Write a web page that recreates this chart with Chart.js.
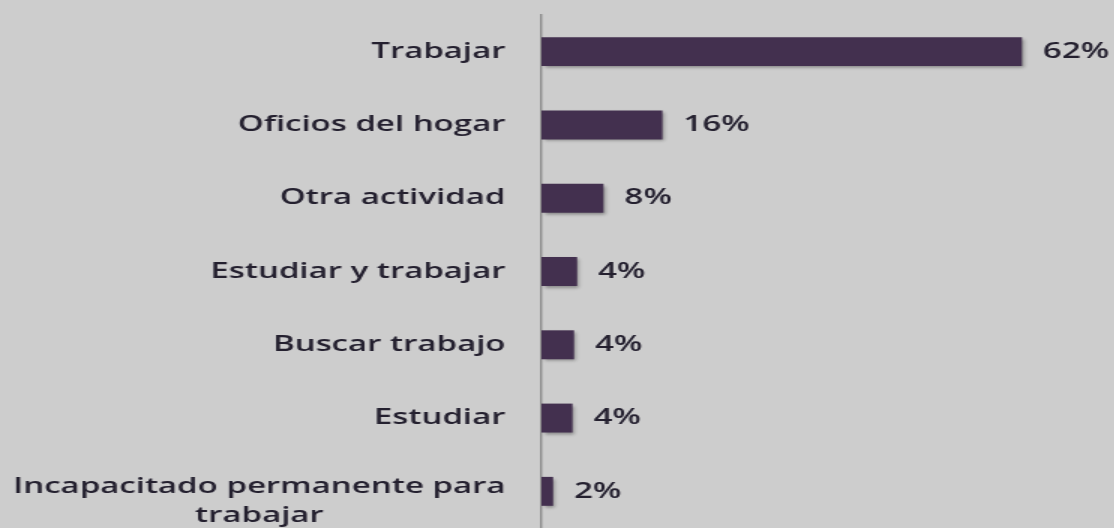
<!DOCTYPE html>
<html>
<head>
<meta charset="utf-8">
<script src="https://cdn.jsdelivr.net/npm/chart.js@4.4.1/dist/chart.umd.min.js"></script>
<style>
  html, body { margin: 0; padding: 0; background: #cdcdcd; overflow: hidden; }
  /* the source picture is stretched sideways, so the chart is drawn narrow and widened */
  #wrap { position: absolute; left: 0; top: 0; width: 743px; height: 528px;
          transform: scaleX(1.5); transform-origin: 0 0; filter: blur(0.4px); }
</style>
</head>
<body>
<div id="wrap"><canvas id="chart"></canvas></div>
<script>
// Data
const categories = [
    'Trabajar',
    'Oficios del hogar',
    'Otra actividad',
    'Estudiar y trabajar',
    'Buscar trabajo',
    'Estudiar',
    ['Incapacitado permanente para', 'trabajar']
];
const shares = [62, 15.6, 8.0, 4.6, 4.2, 4.0, 1.5];
const shareLabels = ['62%', '16%', '8%', '4%', '4%', '4%', '2%'];

const textColor = '#24202f';
const labelFont = '600 22px "Open Sans", sans-serif';

// bar shadow like the original's office style
const barShadow = {
    id: 'barShadow',
    beforeDatasetsDraw(chart) {
        const ctx = chart.ctx;
        ctx.save();
        ctx.shadowColor = 'rgba(0,0,0,0.35)';
        ctx.shadowOffsetX = 1.5;
        ctx.shadowOffsetY = 2;
        ctx.shadowBlur = 3;
    },
    afterDatasetsDraw(chart) {
        chart.ctx.restore();
    }
};

// category names, right aligned, wrapped lines centred on each other
const categoryText = {
    id: 'categoryText',
    afterDraw(chart) {
        const ctx = chart.ctx;
        const y = chart.scales.y;
        const right = 337;
        const lh = 29;
        ctx.save();
        ctx.font = labelFont;
        ctx.fillStyle = textColor;
        ctx.textAlign = 'center';
        ctx.textBaseline = 'middle';
        chart.data.labels.forEach((lab, i) => {
            const lines = Array.isArray(lab) ? lab : [lab];
            const widest = Math.max(...lines.map(l => ctx.measureText(l).width));
            const cx = right - widest / 2;
            const cy = y.getPixelForTick(i) + (lines.length > 1 ? 10 : 0);
            lines.forEach((l, j) => {
                ctx.fillText(l, cx, cy + (j - (lines.length - 1) / 2) * lh);
            });
        });
        ctx.restore();
    }
};

// percentage after each bar
const valueText = {
    id: 'valueText',
    afterDatasetsDraw(chart) {
        const ctx = chart.ctx;
        const meta = chart.getDatasetMeta(0);
        ctx.save();
        ctx.font = labelFont;
        ctx.fillStyle = textColor;
        ctx.textAlign = 'left';
        ctx.textBaseline = 'middle';
        meta.data.forEach((bar, i) => {
            ctx.fillText(shareLabels[i], bar.x + 14, bar.y);
        });
        ctx.restore();
    }
};

new Chart(document.getElementById('chart'), {
    type: 'bar',
    data: {
        labels: categories,
        datasets: [{
            data: shares,
            backgroundColor: '#43304f',
            borderWidth: 0,
            barPercentage: 0.395,
            categoryPercentage: 1
        }]
    },
    options: {
        indexAxis: 'y',
        responsive: true,
        maintainAspectRatio: false,
        animation: false,
        layout: { padding: { top: 15, bottom: -4, left: 0, right: 10 } },
        plugins: {
            legend: { display: false },
            tooltip: { enabled: false }
        },
        scales: {
            x: {
                display: false,
                min: 0,
                max: 72
            },
            y: {
                ticks: { display: false },
                grid: { display: false, drawTicks: false },
                border: { display: true, color: '#8b8b8b', width: 1.4 },
                afterFit(scale) { scale.width = 361; }
            }
        }
    },
    plugins: [barShadow, categoryText, valueText]
});
</script>
</body>
</html>
